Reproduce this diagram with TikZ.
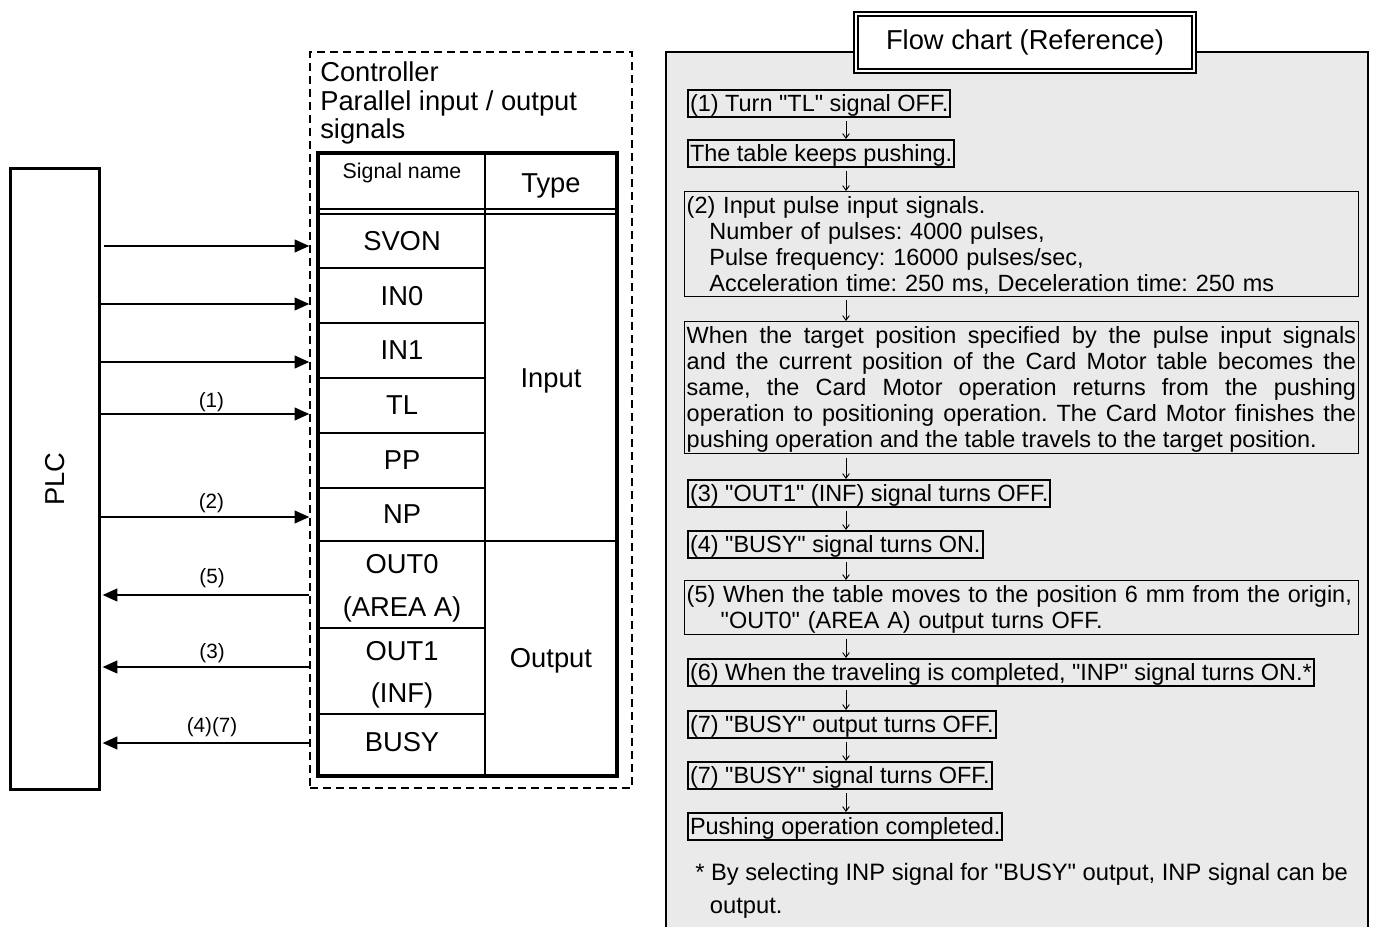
\documentclass[tikz,border=0pt]{standalone}
\usepackage{fontspec}
\setmainfont{Liberation Sans}[Ligatures=TeXOff]
\usetikzlibrary{arrows.meta,calc}
\definecolor{panelgray}{RGB}{234,234,234}
\newcommand\fst{\rule{0pt}{15.5pt}}
\newcommand\fsb{\rule[-2.5pt]{0pt}{2.5pt}}
\frenchspacing
\begin{document}
\begin{tikzpicture}[x=0.75pt,y=-0.75pt,
  big/.style={font=\fontsize{20.5}{24}\selectfont},
  celltxt/.style={big, inner sep=0pt, text height=14.7pt, text depth=0pt},
  sig/.style={line width=1.5pt, -{Triangle[length=11pt,width=9.5pt]}},
  lbl/.style={font=\fontsize{15.5}{18}\selectfont, inner sep=0pt, text height=11.3pt, text depth=3.3pt},
  ftxt/.style={font=\fontsize{17.6}{19.5}\selectfont\frenchspacing, anchor=north west, inner xsep=1.5pt, inner ysep=0.4pt},
  fbox/.style={ftxt, draw, line width=1.5pt},
  wbox/.style={ftxt, draw, line width=0.9pt, inner xsep=1.6pt, inner ysep=1pt, text width=502pt, align=left},
  flowarr/.style={line width=0.7pt, -{Straight Barb[length=3.5pt,width=5pt]}, shorten <=2.5pt},
]
\useasboundingbox (0,0) rectangle (1375,927);

% ---------- flow chart panel ----------
\fill[panelgray] (666,52) rectangle (1368,935);
\draw[line width=0.8pt] (666,935) -- (666,52) -- (1368,52) -- (1368,935);
\node[draw, line width=1.3pt, double=white, double distance=1.6pt, fill=white,
      minimum width=253.8pt, minimum height=43pt, inner sep=0pt, big] (title) at (1025,42.5) {Flow chart (Reference)};

\coordinate (ax) at (846,0);
\node[fbox] (f1) at (687,89) {\fst\fsb(1) Turn "TL" signal OFF.};
\node[fbox] (f2) at (687,139) {\fst\fsb The table keeps pushing.};
\node[wbox] (f3) at (684,191) {\fst(2) Input pulse input signals.\\
  \hspace*{17pt}Number of pulses: 4000 pulses,\\
  \hspace*{17pt}Pulse frequency: 16000 pulses/sec,\\
  \hspace*{17pt}Acceleration time: 250 ms, Deceleration time: 250 ms\fsb};
\node[wbox, align=justify] (f4) at (684,321) {\tolerance=10000\hyphenpenalty=10000\rightskip=7pt\relax
  \fst When the target position specified by the pulse input signals\linebreak
  and the current position of the Card Motor table becomes the\linebreak
  same, the Card Motor operation returns from the pushing\linebreak
  operation to positioning operation. The Card Motor finishes the\linebreak
  pushing operation and the table travels to the target position.\fsb};
\node[fbox] (f5) at (687,479) {\fst\fsb(3) "OUT1" (INF) signal turns OFF.};
\node[fbox] (f6) at (687,530) {\fst\fsb(4) "BUSY" signal turns ON.};
\node[wbox] (f7) at (684,580) {\mbox{\fst(5) When the table moves to the position 6 mm from the origin,}\\
  \hspace*{25.5pt}"OUT0" (AREA A) output turns OFF.\fsb};
\node[fbox] (f8) at (687,658) {\fst\fsb(6) When the traveling is completed, "INP" signal turns ON.*};
\node[fbox] (f9) at (687,710) {\fst\fsb(7) "BUSY" output turns OFF.};
\node[fbox] (f10) at (687,761) {\fst\fsb(7) "BUSY" signal turns OFF.};
\node[fbox] (f11) at (687,812) {\fst\fsb Pushing operation completed.};
\node[ftxt, align=left, inner xsep=0pt, font=\fontsize{17.8}{24.75}\selectfont] (note) at (695,859)
  {\fst* By selecting INP signal for "BUSY" output, INP signal can be\\
   \hspace*{11pt}output.};

\foreach \a/\b in {f1/f2,f2/f3,f3/f4,f4/f5,f5/f6,f6/f7,f7/f8,f8/f9,f9/f10,f10/f11}
  \draw[flowarr] (\a.south -| ax) -- (\b.north -| ax);

% ---------- controller ----------
\node[draw, line width=1.1pt, dash pattern=on 6pt off 3.75pt, minimum width=241.5pt,
      minimum height=552pt, inner sep=0pt] (ctrl) at (471,420) {};
\node[align=left, anchor=north west, inner sep=0pt, font=\fontsize{20.5}{21.2}\selectfont] (ctitle) at (320,61.7)
  {\rule{0pt}{15pt}Controller\\Parallel input / output\\signals};

% table
\draw[line width=1.5pt] (485,153) -- (485,776);
\draw[line width=1.2pt] (318,209) -- (617,209);
\draw[line width=1.2pt] (318,214) -- (617,214);
\foreach \yy in {268,323,378,433,488,628,714}
  \draw[line width=1.5pt] (318,\yy) -- (485,\yy);
\draw[line width=1.5pt] (318,541) -- (617,541);
\draw[line width=3pt] (318,153) rectangle (617,776);

\node[font=\fontsize{16}{19}\selectfont, inner sep=0pt, text height=11.5pt, text depth=0pt] (hsig) at (402,170.5) {Signal name};
\node[celltxt] (htype) at (551,182.5) {Type};
\node[celltxt] (cSV) at (402,241) {SVON};
\node[celltxt] (cI0) at (402,296) {IN0};
\node[celltxt] (cI1) at (402,350) {IN1};
\node[celltxt] (cTL) at (402,405) {TL};
\node[celltxt] (cPP) at (402,460) {PP};
\node[celltxt] (cNP) at (402,514) {NP};
\node[celltxt] (cO0) at (402,564) {OUT0};
\node[celltxt] (cO0b) at (402,607) {(AREA A)};
\node[celltxt] (cO1) at (402,651) {OUT1};
\node[celltxt] (cO1b) at (402,693) {(INF)};
\node[celltxt] (cBU) at (402,742) {BUSY};
\node[celltxt] (tin) at (551,378) {Input};
\node[celltxt] (tout) at (551,658) {Output};

% ---------- PLC ----------
\node[draw, line width=2.6pt, minimum width=66.4pt, minimum height=465.4pt, inner sep=0pt] (plc) at (55,479) {};
\node[big, rotate=90] (plclabel) at (plc.center) {PLC};

% ---------- signal arrows ----------
\coordinate (ySV) at (0,246);
\coordinate (yI0) at (0,304);
\coordinate (yI1) at (0,362);
\coordinate (yTL) at (0,414);
\coordinate (yNP) at (0,517);
\coordinate (yO0) at (0,595);
\coordinate (yO1) at (0,667);
\coordinate (yBU) at (0,743);

\draw[sig, shorten <=2.5pt] (plc.east |- ySV) -- (ctrl.west |- ySV);
\draw[sig] (plc.east |- yI0) -- (ctrl.west |- yI0);
\draw[sig] (plc.east |- yI1) -- (ctrl.west |- yI1);
\draw[sig] (plc.east |- yTL) -- node[lbl, pos=0.53, yshift=9pt] {(1)} (ctrl.west |- yTL);
\draw[sig] (plc.east |- yNP) -- node[lbl, pos=0.53, yshift=10.5pt] {(2)} (ctrl.west |- yNP);
\draw[sig, shorten >=1.2pt] (ctrl.west |- yO0) -- node[lbl, pos=0.467, yshift=12.5pt] {(5)} (plc.east |- yO0);
\draw[sig, shorten >=1.2pt] (ctrl.west |- yO1) -- node[lbl, pos=0.467, yshift=10.5pt] {(3)} (plc.east |- yO1);
\draw[sig, shorten >=1.2pt] (ctrl.west |- yBU) -- node[lbl, pos=0.467, yshift=12pt] {(4)(7)} (plc.east |- yBU);
\end{tikzpicture}
\end{document}
